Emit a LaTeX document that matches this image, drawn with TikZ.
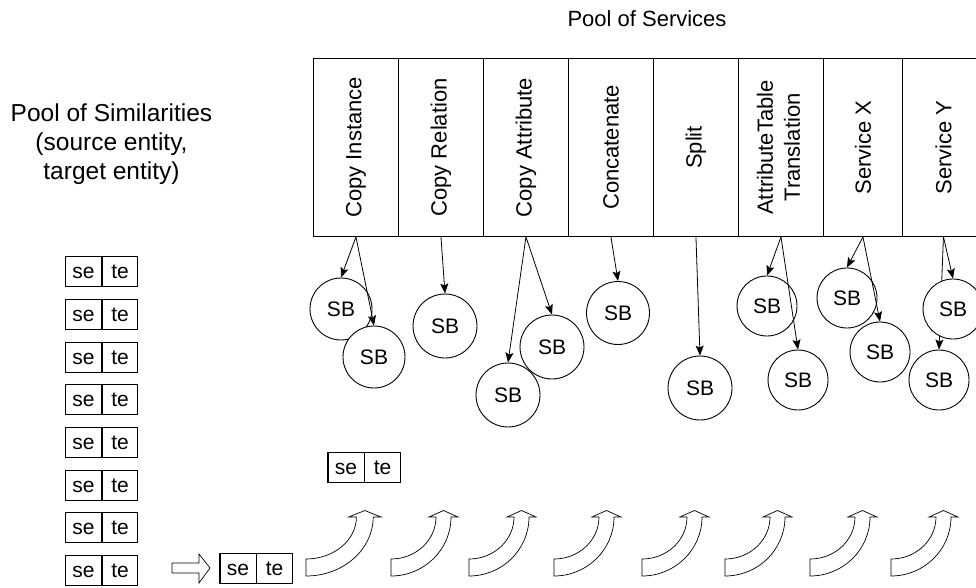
\documentclass[tikz,border=0pt]{standalone}
\usepackage{fontspec}
\setmainfont{Liberation Sans}
\usetikzlibrary{arrows.meta,shapes.multipart}

\newcommand\setepair{\makebox[36pt]{\rule[-8pt]{0pt}{30pt}se}\nodepart{two}\makebox[35pt]{\rule[-8pt]{0pt}{30pt}te}}

\begin{document}
\begin{tikzpicture}[x=1pt,y=-1pt,
  svc/.style={draw, line width=0.9pt, minimum height=178pt, inner sep=0pt, anchor=north west, font=\fontsize{22}{27}\selectfont},
  sb/.style={circle, draw, fill=white, line width=0.9pt, minimum size=62pt, inner sep=0pt, font=\fontsize{21}{25}\selectfont},
  pair/.style={rectangle split, rectangle split horizontal, rectangle split parts=2, draw, line width=1.1pt, inner sep=0pt, font=\fontsize{21}{25}\selectfont},
  link/.style={-{Stealth[length=10pt,width=8pt,inset=2pt]}, line width=0.8pt},
  hollow/.style={draw, line width=0.7pt, fill=white},
  curvearrow/.pic={\path[hollow] (0,0) -- (0,-17) .. controls (24.9,-17) and (45,-35.8) .. (45,-59) -- (38,-59) -- (52.5,-65.5) -- (67,-59) -- (60,-59) .. controls (60,-26.4) and (33.1,0) .. (0,0) -- cycle;}
]
\useasboundingbox (0,0) rectangle (976,588);
\clip (0,0) rectangle (976,588);
\fill[white] (0,0) rectangle (976,588);

% titles
\node[font=\fontsize{22}{26}\selectfont, anchor=base, inner sep=0pt] (pos) at (647,26.7) {Pool of Services};
\node[font=\fontsize{24.5}{29}\selectfont, align=center, inner sep=0pt] (psim) at (111.5,144.3) {Pool of Similarities\\(source entity,\\target entity)};

% services
\node[svc, minimum width=85pt] (c1) at (313,58) {\rotatebox{90}{Copy Instance}};
\node[svc, minimum width=85pt] (c2) at (398,58) {\rotatebox{90}{Copy Relation}};
\node[svc, minimum width=85pt] (c3) at (483,58) {\rotatebox{90}{Copy Attribute}};
\node[svc, minimum width=85pt] (c4) at (568,58) {\rotatebox{90}{Concatenate}};
\node[svc, minimum width=85pt] (c5) at (653,58) {\rotatebox{90}{Split}};
\node[svc, minimum width=85pt] (c6) at (738,58) {\rotatebox{90}{\begin{tabular}{@{}c@{}}AttributeTable\\Translation\end{tabular}}};
\node[svc, minimum width=79pt] (c7) at (823,58) {\rotatebox{90}{Service X}};
\node[svc, minimum width=82pt] (c8) at (902,58) {\rotatebox{90}{Service Y}};

% service blocks
\node[sb] (A) at (341,309) {SB};
\node[sb] (B) at (374,357) {SB};
\node[sb, minimum size=64pt] (C) at (445,326) {SB};
\node[sb, minimum size=64pt] (D) at (508,395) {SB};
\node[sb, minimum size=64pt] (E) at (552,347) {SB};
\node[sb, minimum size=63pt] (F) at (618,313) {SB};
\node[sb, minimum size=64pt] (G) at (700,388) {SB};
\node[sb, minimum size=60pt] (H) at (767,306) {SB};
\node[sb, minimum size=60pt] (I) at (798,380) {SB};
\node[sb, minimum size=60pt] (J) at (847,298) {SB};
\node[sb, minimum size=60pt] (K) at (880,352) {SB};
\node[sb, minimum size=60pt] (M) at (939,380) {SB};
\draw[link] (c8.south) -- (M.north);
\node[sb, minimum size=60pt] (L) at (953,309) {SB};

\draw[link] (c1.south) -- (A.north);
\draw[link] (c1.south) -- (B.north);
\draw[link] (c2.south) -- (C.north);
\draw[link] (c3.south) -- (D.north);
\draw[link] (c3.south) -- (E.north);
\draw[link] (c4.south) -- (F.north);
\draw[link] (c5.south) -- (G.north);
\draw[link] (c6.south) -- (H.north);
\draw[link] (c6.south) -- (I.north);
\draw[link] (c7.south) -- (J.north);
\draw[link] (c7.south) -- (K.north);
\draw[link] (c8.south) -- (L.north);

% similarity pairs
\foreach \i in {0,...,7}
  \node[pair] (p\i) at (101.5, 271.8+42.67*\i) {\setepair};
\node[pair] (pm) at (364,467.7) {\setepair};
\node[pair] (pb) at (256,568.3) {\setepair};

% hollow arrow into the pipeline
\path[hollow] (172,563) -- (199,563) -- (199,554) -- (210,568) -- (199,583) -- (199,573) -- (172,573) -- cycle;

% curved arrows
\pic[xscale=1.12] at (306,576) {curvearrow};
\foreach \x in {391,469,554,642,725,810,891}
  \pic at (\x,576) {curvearrow};
\end{tikzpicture}
\end{document}
